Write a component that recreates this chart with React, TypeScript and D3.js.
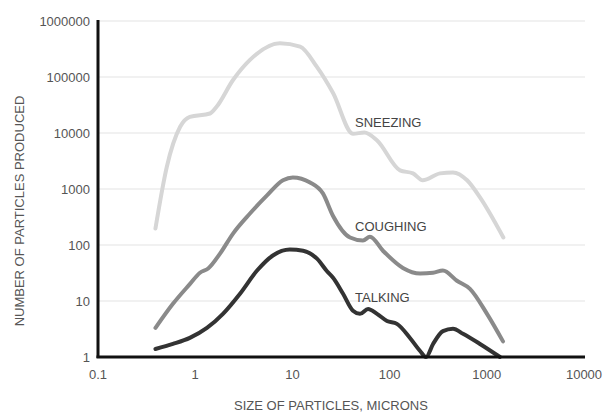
import React from "react";
import * as d3 from "d3";

// particle size (microns) vs number of particles produced
const sneezing: [number, number][] = [
  [0.39, 197], [0.51, 2470], [0.7, 12900], [0.88, 19400], [1.42, 22300],
  [1.66, 29400], [2.45, 88300], [3.66, 202000], [7.45, 402000], [12, 349000],
  [17.8, 153000], [26.2, 51700], [42, 9700], [55, 10200], [74, 7430],
  [128, 2150], [174, 1900], [219, 1430], [330, 1900], [449, 1980],
  [627, 1430], [851, 707], [1480, 136],
];

const coughing: [number, number][] = [
  [0.39, 3.3], [0.59, 8.9], [0.88, 20], [1.12, 32], [1.36, 38],
  [1.8, 70], [2.45, 160], [3.66, 365], [5.48, 768], [8.0, 1430],
  [10.1, 1610], [15.2, 1310], [20.6, 834], [26.2, 330], [39.2, 136],
  [53.2, 120], [62.8, 141], [85.5, 79], [137, 39], [206, 31],
  [280, 32], [354, 35], [493, 23], [671, 16.5], [1005, 5.9], [1468, 1.9],
];

const talking: [number, number][] = [
  [0.39, 1.39], [0.59, 1.71], [0.88, 2.19], [1.32, 3.3], [1.93, 5.9],
  [2.89, 13.5], [4.33, 35], [6.3, 65], [9.4, 83], [12.9, 79],
  [17.9, 57], [22.7, 34], [26.2, 26], [33.2, 13.5], [42, 6.7],
  [49.6, 5.9], [60, 7.2], [74.2, 5.9], [94, 4.4], [119, 3.9],
  [162, 2.19], [206, 1.28], [237, 1], [280, 1.71], [354, 2.9],
  [449, 3.2], [569, 2.6], [851, 1.71], [1367, 1],
];

const xTicks = [0.1, 1, 10, 100, 1000, 10000];
const yTicks = [1, 10, 100, 1000, 10000, 100000, 1000000];

const series = [
  { name: "SNEEZING", data: sneezing, color: "#d6d6d6", labelAt: [355, 122] },
  { name: "COUGHING", data: coughing, color: "#8a8a8a", labelAt: [355, 226] },
  { name: "TALKING", data: talking, color: "#333333", labelAt: [355, 297] },
];

const W = 604;
const H = 414;
const font = "Liberation Sans, Arial, sans-serif";

export default function App() {
  const x = d3.scaleLog().domain([0.1, 10000]).range([98, 584]);
  const y = d3.scaleLog().domain([1, 1000000]).range([357, 21]);

  const line = d3
    .line<[number, number]>()
    .x((d) => x(d[0]))
    .y((d) => y(d[1]))
    .curve(d3.curveMonotoneX);

  return (
    <svg
      width={W}
      height={H}
      style={{ position: "absolute", left: 0, top: 0, background: "#fff" }}
      fontFamily={font}
    >
      {/* grid */}
      {yTicks.slice(1).map((t) => (
        <line key={t} x1={98} x2={585} y1={y(t)} y2={y(t)} stroke="#e4e4e4" strokeWidth={1.2} />
      ))}

      {/* y tick labels */}
      {yTicks.map((t) => (
        <text key={t} x={90} y={y(t)} dy="0.35em" textAnchor="end" fontSize={13} fill="#555">
          {t}
        </text>
      ))}

      {/* x tick labels */}
      {xTicks.map((t) => (
        <text key={t} x={x(t)} y={374} dy="0.35em" textAnchor="middle" fontSize={13} fill="#555">
          {t}
        </text>
      ))}

      {/* curves */}
      {series.map((s) => (
        <path
          key={s.name}
          d={line(s.data) ?? ""}
          fill="none"
          stroke={s.color}
          strokeWidth={4}
          strokeLinecap="round"
          strokeLinejoin="round"
        />
      ))}

      {series.map((s) => (
        <text key={s.name} x={s.labelAt[0]} y={s.labelAt[1]} dy="0.35em" fontSize={13} fill="#444">
          {s.name}
        </text>
      ))}

      {/* axes */}
      <line x1={98} x2={98} y1={20} y2={358} stroke="#111" strokeWidth={3} />
      <line x1={96.5} x2={585} y1={357} y2={357} stroke="#111" strokeWidth={3} />

      <text x={331} y={405} dy="0.35em" textAnchor="middle" fontSize={13} fill="#555">
        SIZE OF PARTICLES, MICRONS
      </text>
      <text
        transform="translate(19,211) rotate(-90)"
        dy="0.35em"
        textAnchor="middle"
        fontSize={13}
        fill="#555"
      >
        NUMBER OF PARTICLES PRODUCED
      </text>
    </svg>
  );
}
